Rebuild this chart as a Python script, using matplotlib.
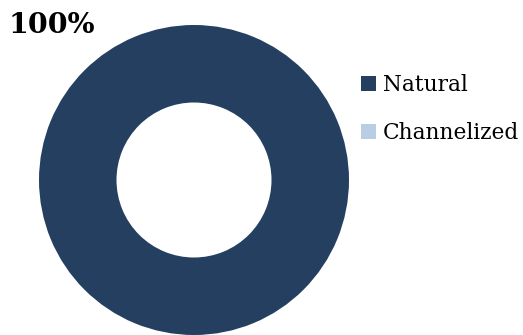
import matplotlib.pyplot as plt
from matplotlib.patches import Patch

# stream reach composition
categories = ["Natural", "Channelized"]
shares = [100, 0]
colors = ["#243f60", "#b9cde5"]

plt.rcParams['font.family'] = ['DejaVu Serif']

fig = plt.figure(figsize=(5.23, 3.35), dpi=100)
W, H = 523, 335
cx, cy, r = 194, 180, 155
ax = fig.add_axes([(cx - r) / W, (H - cy - r) / H, 2 * r / W, 2 * r / H])
ax.pie(shares, colors=colors, startangle=90, counterclock=False, radius=1,
       wedgeprops=dict(width=0.5, linewidth=0))
ax.set_xlim(-1, 1)
ax.set_ylim(-1, 1)
ax.set_aspect('equal')
ax.axis('off')

pct = shares[0] / sum(shares) * 100
fig.text(9 / W, 1 - 33 / H, f"{pct:.0f}%", fontsize=20.5, fontweight='bold',
         ha='left', va='baseline')

handles = [Patch(facecolor=c, edgecolor='none') for c in colors]
fig.legend(handles, categories, loc='upper left', bbox_to_anchor=(361 / W, 1 - 74 / H),
           frameon=False, fontsize=15.6, handlelength=0.7, handleheight=0.7,
           handletextpad=0.3, labelspacing=1.22, borderaxespad=0, borderpad=0)

fig.savefig("out.png", dpi=100)
